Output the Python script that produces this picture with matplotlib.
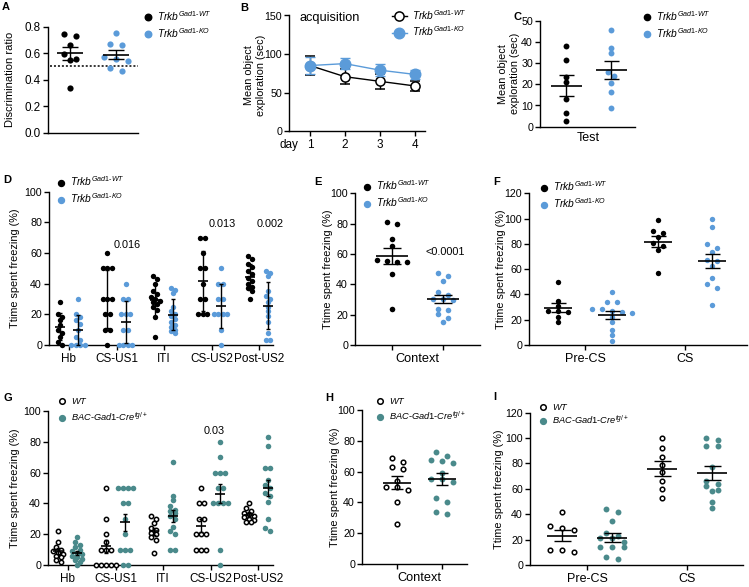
import numpy as np
import matplotlib
matplotlib.use('Agg')
import matplotlib.pyplot as plt
from matplotlib.lines import Line2D

plt.rcParams['font.family'] = ['Liberation Sans', 'DejaVu Sans']
plt.rcParams['mathtext.fontset'] = 'custom'
plt.rcParams['mathtext.it'] = 'Liberation Sans:italic'
plt.rcParams['mathtext.rm'] = 'Liberation Sans'
plt.rcParams['mathtext.sf'] = 'Liberation Sans'
plt.rcParams['mathtext.bf'] = 'Liberation Sans:bold'

# ---------------- data ----------------
# A: novel object recognition, discrimination ratio
a_wt = [0.73, 0.748, 0.663, 0.597, 0.547, 0.56, 0.34]
a_ko = [0.755, 0.66, 0.673, 0.572, 0.539, 0.557, 0.468, 0.491]
a_chance = 0.5
a_yticks = [0.0, 0.2, 0.4, 0.6, 0.8]

# B: acquisition, mean object exploration (sec)
b_days = [1, 2, 3, 4]
b_wt_mean = [85, 70.5, 64.5, 58.5]
b_wt_sem = [12, 9.5, 10, 7]
b_ko_mean = [85, 87.5, 79, 73.5]
b_ko_sem = [11, 7, 7.5, 6]
b_yticks = [0, 50, 100, 150]

# C: test
c_wt = [38.2, 31.4, 23.3, 20.9, 13.2, 6.4, 2.5]
c_ko = [45.6, 37.3, 34.9, 25.9, 23.9, 20.8, 16.2, 8.8]
c_yticks = [0, 10, 20, 30, 40, 50]

# D: fear conditioning, Trkb mice
d_cats = ['Hb', 'CS-US1', 'ITI', 'CS-US2', 'Post-US2']
d_wt_hb = [28, 20, 18, 16, 13, 10, 8, 5, 2, 0]
d_wt_csus1 = [60, 50, 50, 50, 30, 30, 30, 20, 20, 10, 10, 0]
d_wt_iti = [45, 43, 40, 35, 33, 31, 30, 29, 28, 27, 25, 23, 18, 5]
d_wt_csus2 = [70, 70, 60, 50, 50, 40, 30, 30, 20, 20, 20]
d_wt_post = [58, 56, 53, 51, 48, 46, 44, 42, 40, 38, 37, 35, 30]
d_ko_hb = [30, 20, 18, 16, 14, 10, 5, 3, 0, 0, 0, 0]
d_ko_csus1 = [40, 30, 30, 20, 20, 20, 10, 10, 0, 0, 0, 0]
d_ko_iti = [37, 36, 34, 25, 22, 20, 19, 17, 15, 13, 12, 10, 9, 8]
d_ko_csus2 = [50, 40, 40, 30, 30, 20, 20, 20, 20, 10, 0]
d_ko_post = [48, 47, 45, 35, 32, 30, 28, 25, 22, 19, 15, 8, 3, 3]
d_pvals = ['', '0.016', '', '0.013', '0.002']
d_pval_y = [0, 65, 0, 79, 79]
d_yticks = [0, 20, 40, 60, 80, 100]

# E: context
e_wt = [81, 79.5, 70, 65, 56, 55.5, 55, 55, 47, 24]
e_ko = [47.7, 45.5, 42.4, 35, 33, 30, 29.7, 30.3, 20.4, 23.7, 23, 18, 15]
e_pval = '<0.0001'
e_pval_y = 61.5

# F: tone
f_cats = ['Pre-CS', 'CS']
f_wt_pre = [50, 35, 31, 27, 27, 26, 22, 18]
f_ko_pre = [42, 34, 34, 28.5, 28.5, 27, 26, 25, 22, 18, 12, 8, 3]
f_wt_cs = [98.7, 90.5, 88.5, 85.5, 81, 78.5, 75.5, 56.7]
f_ko_cs = [100, 93, 80, 77, 73.5, 67, 66.5, 62.5, 53, 48.5, 45, 31.5]
f_yticks = [0, 20, 40, 60, 80, 100, 120]

# G: fear conditioning, BAC-Gad1-Cre mice
g_wt_hb = [22, 15, 12, 10, 9, 8, 7, 6, 5, 3, 2]
g_wt_csus1 = [50, 30, 20, 15, 10, 10, 10, 0, 0, 0, 0, 0]
g_wt_iti = [32, 30, 27, 24, 23, 21, 20, 18, 16, 8]
g_wt_csus2 = [50, 40, 40, 30, 30, 20, 20, 20, 10, 10, 10]
g_wt_post = [40, 37, 35, 34, 33, 32, 31, 30, 29, 28, 28]
g_ko_hb = [18, 15, 13, 12, 10, 9, 8, 7, 6, 5, 4, 3, 2, 0]
g_ko_csus1 = [50, 50, 50, 50, 40, 40, 30, 20, 10, 10, 10, 0, 0]
g_ko_iti = [67, 45, 42, 38, 36, 35, 34, 32, 30, 25, 22, 20, 10, 10]
g_ko_csus2 = [80, 70, 60, 60, 60, 50, 50, 40, 40, 40, 40, 10, 0]
g_ko_post = [83, 77, 63, 63, 55, 52, 50, 47, 45, 41, 30, 24, 22]
g_pvals = ['', '', '', '0.03', '']
g_pval_y = [0, 0, 0, 87, 0]

# H: context
h_wt = [69, 66, 63, 62, 54, 50, 50, 48, 40, 26]
h_ko = [73, 70, 67.5, 67, 65.5, 59, 55.5, 55, 53, 43, 40, 33.5, 32.5]

# I: tone
i_wt_pre = [41.5, 31, 29.5, 27.5, 11.5, 11.5, 10]
i_ko_pre = [44.5, 41.5, 34.5, 25, 23, 21, 21, 18, 14, 14, 14, 6, 5]
i_wt_cs = [100, 92, 85, 79, 73, 66, 60, 53]
i_ko_cs = [100, 98.5, 93.5, 93.5, 77.5, 66, 64, 62, 59, 58, 50, 45]

WT_LABEL = r'$Trkb^{Gad1\text{-}WT}$'
KO_LABEL = r'$Trkb^{Gad1\text{-}KO}$'
WT2_LABEL = r'$WT$'
CRE_LABEL = r'$BAC\text{-}Gad1\text{-}Cre^{tg/+}$'
YLAB_FREEZE = 'Ttime spent freezing (%)'
YLAB_EXPL = 'Mean object\nexploration (sec)'

BLUE = '#5b9bd9'
TEAL = '#4a8a8b'

# ---------------- figure ----------------
W, H = 749, 587
fig = plt.figure(figsize=(W / 100, H / 100), dpi=100)
TICKFS = 7.7
XCATFS = 8.5
YLFS = 7.8
LEGFS = 7.4


def make_ax(l, t, r, b, xlim, ylim):
    ax = fig.add_axes([l / W, 1 - b / H, (r - l) / W, (b - t) / H])
    ax.set_xlim(xlim)
    ax.set_ylim(ylim)
    for s in ['top', 'right']:
        ax.spines[s].set_visible(False)
    for s in ['left', 'bottom']:
        ax.spines[s].set_linewidth(1.0)
    ax.tick_params(length=3.5, width=1.0, labelsize=TICKFS, pad=1.5)
    ax.tick_params(axis='x', labelsize=XCATFS, pad=2)
    ax.px = ((r - l) / (xlim[1] - xlim[0]), (b - t) / (ylim[1] - ylim[0]))
    return ax


def swarm(ax, xc, vals, step, row, **kw):
    vals = np.asarray(vals, float)
    ppx, ppy = ax.px
    order = np.argsort(-vals, kind='stable')
    rows, cur = [], [order[0]]
    for idx in order[1:]:
        if (vals[cur[0]] - vals[idx]) * ppy < row:
            cur.append(idx)
        else:
            rows.append(cur)
            cur = [idx]
    rows.append(cur)
    offs = np.zeros(len(vals))
    for r in rows:
        n = len(r)
        for k, idx in enumerate(r):
            offs[idx] = (k - (n - 1) / 2) * step / ppx
    ax.scatter(xc + offs, vals, clip_on=False, zorder=3, **kw)


def meanbar(ax, x, vals, mw, cw, kind='sem'):
    vals = np.asarray(vals, float)
    m = vals.mean()
    e = vals.std(ddof=1)
    if kind == 'sem':
        e = e / np.sqrt(len(vals))
    ax.errorbar([x], [m], yerr=[e], fmt='none', ecolor='k', elinewidth=1.0,
                capsize=cw * 0.72 / 2, capthick=1.0, zorder=5, clip_on=False)
    ax.plot([x], [m], marker='_', ms=mw * 0.72, mew=1.2, color='k', zorder=6,
            clip_on=False)


def dot_handle(color, open_=False, ms=4.5):
    if open_:
        return Line2D([], [], marker='o', ls='none', mfc='white', mec='k',
                      mew=1.1, ms=ms)
    return Line2D([], [], marker='o', ls='none', color=color, ms=ms)


def add_legend(ax, handles, labels, x, y, fs=LEGFS, hl=0.9, ls=0.3):
    ax.legend(handles, labels, loc='upper left',
              bbox_to_anchor=(x / W, 1 - y / H), bbox_transform=fig.transFigure,
              frameon=False, fontsize=fs, handlelength=hl, handletextpad=0.45,
              labelspacing=ls, borderpad=0, borderaxespad=0)


def ylab(ax, text, xc, yc, fs=YLFS, ls=1.2):
    l, b, w, h = ax.get_position().bounds
    ax.set_ylabel(text, fontsize=fs, va='center', ha='center', linespacing=ls)
    ax.yaxis.set_label_coords((xc / W - l) / w, ((1 - yc / H) - b) / h)


def letter(x, y, s):
    fig.text(x / W, 1 - y / H, s, fontsize=8, fontweight='bold', ha='left', va='top')


# ---- A ----
axA = make_ax(48, 26.7, 138, 132.7, (-0.48, 1.48), (0, 0.8))
axA.set_yticks(a_yticks, [f'{v:.1f}' for v in a_yticks], fontsize=8.4)
axA.set_xticks([])
axA.axhline(a_chance, xmin=0.02, xmax=1, color='k', lw=1.1, ls=(0, (1.3, 1.3)), zorder=2)
swarm(axA, 0, a_wt, 12, 6, s=20, color='k', linewidths=0)
swarm(axA, 1, a_ko, 12, 6, s=20, color=BLUE, linewidths=0)
meanbar(axA, 0, a_wt, 27, 16)
meanbar(axA, 1, a_ko, 27, 16)
ylab(axA, 'Discrimination ratio', 10, 79.7, fs=8)
add_legend(axA, [dot_handle('k', ms=4.7), dot_handle(BLUE, ms=4.7)], [WT_LABEL, KO_LABEL], 143.5, 9.0)
letter(2, 2, 'A')

# ---- B ----
axB = make_ax(289, 15.5, 425, 131, (0.4, 4.29), (0, 150))
axB.set_yticks(b_yticks)
axB.set_xticks(b_days)
axB.errorbar(b_days, b_wt_mean, yerr=b_wt_sem, color='k', lw=1.0, marker='o',
             mfc='white', mec='k', mew=1.1, ms=6.6, ecolor='k', elinewidth=1.0,
             capsize=3.6, capthick=1.0, zorder=3, clip_on=False)
axB.errorbar(b_days, b_ko_mean, yerr=b_ko_sem, color=BLUE, lw=1.0, marker='o',
             mfc=BLUE, mec=BLUE, ms=7.6, ecolor=BLUE, elinewidth=1.0,
             capsize=3.6, capthick=1.0, zorder=4, clip_on=False)
axB.annotate('day', xy=(0, 0), xycoords='axes fraction', xytext=(0, -5.5),
             textcoords='offset points', ha='center', va='top', fontsize=XCATFS)
axB.text(0.08, 0.975, 'acquisition', transform=axB.transAxes, fontsize=9.2,
         ha='left', va='center')
ylab(axB, YLAB_EXPL, 255, 75)
hb_wt = Line2D([], [], color='k', lw=1.0, marker='o', mfc='white', mec='k', mew=1.1, ms=6.6)
hb_ko = Line2D([], [], color=BLUE, lw=1.0, marker='o', mfc=BLUE, mec=BLUE, ms=7.6)
add_legend(axB, [hb_wt, hb_ko], [WT_LABEL, KO_LABEL], 391.5, 8.0, hl=1.5, ls=0.28)
letter(240, 3, 'B')

# ---- C ----
axC = make_ax(540, 20.7, 635, 126.7, (-0.58, 1.53), (0, 50))
axC.set_yticks(c_yticks)
axC.set_xticks([0.5], ['Test'])
axC.tick_params(axis='x', length=0, pad=4, labelsize=9)
swarm(axC, 0, c_wt, 6.5, 5, s=18, color='k', linewidths=0)
swarm(axC, 1, c_ko, 6.5, 5, s=18, color=BLUE, linewidths=0)
meanbar(axC, 0, c_wt, 31, 15)
meanbar(axC, 1, c_ko, 31, 15)
ylab(axC, YLAB_EXPL, 509, 73.7)
add_legend(axC, [dot_handle('k', ms=4.5), dot_handle(BLUE, ms=4.5)], [WT_LABEL, KO_LABEL], 642.5, 9.0)
letter(513, 12, 'C')


def grouped(ax, wt_lists, ko_lists, off, open_wt, ko_color, ms_s, step, row, mw, cw, kind):
    for i, (w, k) in enumerate(zip(wt_lists, ko_lists)):
        if open_wt:
            swarm(ax, i - off, w, step, row, s=ms_s * 0.6, facecolors='white',
                  edgecolors='k', linewidths=1.1)
        else:
            swarm(ax, i - off, w, step, row, s=ms_s, color='k', linewidths=0)
        swarm(ax, i + off, k, step, row, s=ms_s, color=ko_color, linewidths=0)
        meanbar(ax, i - off, w, mw, cw, kind)
        meanbar(ax, i + off, k, mw, cw, kind)


# ---- D ----
axD = make_ax(49, 191.7, 273, 345, (-0.42, 4.29), (0, 100))
axD.set_yticks(d_yticks)
axD.set_xticks(range(len(d_cats)), d_cats)
d_wt = [d_wt_hb, d_wt_csus1, d_wt_iti, d_wt_csus2, d_wt_post]
d_ko = [d_ko_hb, d_ko_csus1, d_ko_iti, d_ko_csus2, d_ko_post]
grouped(axD, d_wt, d_ko, 0.19, False, BLUE, 15, 4.5, 3.5, 10, 5, 'sd')
for i, (p, y) in enumerate(zip(d_pvals, d_pval_y)):
    if p:
        axD.text(i + 0.22, y, p, fontsize=7.8, ha='center', va='center')
ylab(axD, YLAB_FREEZE, 15, 268)
add_legend(axD, [dot_handle('k', ms=4.3), dot_handle(BLUE, ms=4.3)], [WT_LABEL, KO_LABEL], 56, 174.5)
letter(3, 175, 'D')

# ---- E ----
axE = make_ax(355, 193.3, 480, 345, (-0.73, 1.73), (0, 100))
axE.set_yticks(d_yticks)
axE.set_xticks([0.5], ['Context'])
axE.set_xticks([0, 1], minor=True)
axE.tick_params(axis='x', which='major', length=0, pad=5.5, labelsize=9.2)
axE.tick_params(axis='x', which='minor', length=3.5, width=1.0)
swarm(axE, 0, e_wt, 10, 5, s=16, color='k', linewidths=0)
swarm(axE, 1, e_ko, 10, 5, s=16, color=BLUE, linewidths=0)
meanbar(axE, 0, e_wt, 32, 18)
meanbar(axE, 1, e_ko, 32, 18)
axE.text(1.04, e_pval_y, e_pval, fontsize=7.8, ha='center', va='center')
ylab(axE, YLAB_FREEZE, 328, 269)
add_legend(axE, [dot_handle('k', ms=4.3), dot_handle(BLUE, ms=4.3)], [WT_LABEL, KO_LABEL], 362, 178.5)
letter(314, 177, 'E')

# ---- F ----
axF = make_ax(529, 193.3, 747, 345, (-0.56, 1.62), (0, 120))
axF.set_yticks(f_yticks)
axF.set_xticks(range(len(f_cats)), f_cats)
axF.tick_params(axis='x', labelsize=9)
grouped(axF, [f_wt_pre, f_wt_cs], [f_ko_pre, f_ko_cs], 0.27, False, BLUE, 15, 10, 5, 28, 15, 'sem')
ylab(axF, YLAB_FREEZE, 501, 269)
add_legend(axF, [dot_handle('k', ms=4.3), dot_handle(BLUE, ms=4.3)], [WT_LABEL, KO_LABEL], 539, 179.5)
letter(493, 177, 'F')

# ---- G ----
axG = make_ax(48, 411, 273, 565, (-0.42, 4.31), (0, 100))
axG.set_yticks(d_yticks)
axG.set_xticks(range(len(d_cats)), d_cats)
g_wt = [g_wt_hb, g_wt_csus1, g_wt_iti, g_wt_csus2, g_wt_post]
g_ko = [g_ko_hb, g_ko_csus1, g_ko_iti, g_ko_csus2, g_ko_post]
grouped(axG, g_wt, g_ko, 0.2, True, TEAL, 16, 5, 3.5, 10, 5, 'sem')
for i, (p, y) in enumerate(zip(g_pvals, g_pval_y)):
    if p:
        axG.text(i + 0.08, y, p, fontsize=7.8, ha='center', va='center')
ylab(axG, YLAB_FREEZE, 15, 488)
add_legend(axG, [dot_handle('k', open_=True, ms=4.0), dot_handle(TEAL, ms=4.2)], [WT2_LABEL, CRE_LABEL], 58, 396, fs=6.7, ls=0.5)
letter(3, 393, 'G')

# ---- H ----
axH = make_ax(362, 410, 467, 564, (-0.78, 1.56), (0, 100))
axH.set_yticks(d_yticks)
axH.set_xticks([0.5], ['Context'])
axH.set_xticks([0, 1], minor=True)
axH.tick_params(axis='x', which='major', length=0, pad=5.5, labelsize=9.2)
axH.tick_params(axis='x', which='minor', length=3.5, width=1.0)
swarm(axH, 0, h_wt, 11, 5, s=11, facecolors='white', edgecolors='k', linewidths=1.1)
swarm(axH, 1, h_ko, 11, 5, s=18, color=TEAL, linewidths=0)
meanbar(axH, 0, h_wt, 28, 12)
meanbar(axH, 1, h_ko, 28, 12)
ylab(axH, YLAB_FREEZE, 335, 487)
add_legend(axH, [dot_handle('k', open_=True, ms=4.0), dot_handle(TEAL, ms=4.2)], [WT2_LABEL, CRE_LABEL], 376, 396, fs=6.7, ls=0.4)
letter(325, 393, 'H')

# ---- I ----
axI = make_ax(530, 412.7, 743, 565, (-0.57, 1.56), (0, 120))
axI.set_yticks(f_yticks)
axI.set_xticks(range(len(f_cats)), f_cats)
axI.tick_params(axis='x', labelsize=9)
grouped(axI, [i_wt_pre, i_wt_cs], [i_ko_pre, i_ko_cs], 0.25, True, TEAL, 18, 12, 5, 30, 17, 'sem')
ylab(axI, YLAB_FREEZE, 499, 489)
add_legend(axI, [dot_handle('k', open_=True, ms=4.0), dot_handle(TEAL, ms=4.2)], [WT2_LABEL, CRE_LABEL], 539, 402, fs=6.7, ls=0.15)
letter(493, 392, 'I')

fig.savefig('out.png', dpi=100)
